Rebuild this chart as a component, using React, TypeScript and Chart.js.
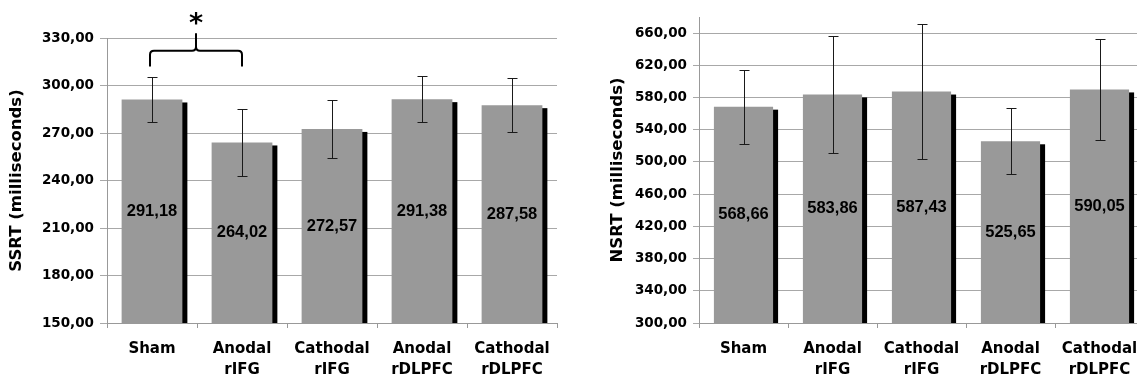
import React, { useEffect, useRef } from 'react';
import { Chart, registerables } from 'chart.js';

Chart.register(...registerables);

// ---------- data ----------
const categories: string[][] = [
  ['Sham'],
  ['Anodal', 'rIFG'],
  ['Cathodal', 'rIFG'],
  ['Anodal', 'rDLPFC'],
  ['Cathodal', 'rDLPFC'],
];

const ssrtValues = [291.18, 264.02, 272.57, 291.38, 287.58];
const ssrtErrors = [14.2, 21.0, 18.3, 14.5, 17.2];
const ssrtTicks = [150, 180, 210, 240, 270, 300, 330];
const ssrtTitle = 'SSRT (milliseconds)';

const nsrtValues = [568.66, 583.86, 587.43, 525.65, 590.05];
const nsrtErrors = [46, 73, 84, 41, 62.5];
const nsrtTicks = [300, 340, 380, 420, 460, 500, 540, 580, 620, 660];
const nsrtTitle = 'NSRT (milliseconds)';

// significance annotation (category indices) for the SSRT chart
const ssrtSignificance = [{ from: 0, to: 1, mark: '*' }];

// ---------- styling ----------
const BAR_COLOR = '#999999';
const SHADOW_COLOR = '#000000';
const GRID_COLOR = '#a8a8a8';
const AXIS_COLOR = '#999999';
const ERR_COLOR = '#1a1a1a';
const TICK_FONT = { family: '"DejaVu Sans", sans-serif', size: 13.5, weight: 'bold' as const };
const CAT_FONT = { family: '"DejaVu Sans", sans-serif', size: 15, weight: 'bold' as const, lineHeight: 1.37 };
const TITLE_FONT = { family: '"DejaVu Sans", sans-serif', size: 16.5, weight: 'bold' as const };
const LABEL_FONT = 'bold 16.5px "Liberation Sans", Arial, sans-serif';
const MARK_FONT = 'bold 27px "DejaVu Sans", sans-serif';

const fmt = (v: number) => v.toFixed(2).replace('.', ',');

interface Params {
  values: number[];
  errors: number[];
  ticks: number[];
  min: number;
  max: number;
  title: string;
  barPct: number;
  padTop: number;
  padRight: number;
  yAxisWidth: number;
  xAxisHeight: number;
  titlePad: number;
  tickLength: number;
  significance?: { from: number; to: number; mark: string }[];
  bracket?: { tip: number; level: number; end: number; markBaseline: number };
}

function decorPlugin(p: Params) {
  return {
    id: 'decor',
    beforeDatasetsDraw(chart: any) {
      const ctx = chart.ctx;
      const meta = chart.getDatasetMeta(0);
      const bottom = chart.chartArea.bottom;
      ctx.save();
      ctx.fillStyle = SHADOW_COLOR;
      meta.data.forEach((bar: any) => {
        const { x, y, base, width } = bar.getProps(['x', 'y', 'base', 'width'], true);
        const b = Math.min(base, bottom);
        ctx.fillRect(x - width / 2 + 5, y + 3, width, b - y - 3);
      });
      ctx.restore();
    },
    afterDatasetsDraw(chart: any) {
      const ctx = chart.ctx;
      const meta = chart.getDatasetMeta(0);
      const ys = chart.scales.y;
      const bottom = chart.chartArea.bottom;
      ctx.save();
      // error bars
      ctx.strokeStyle = ERR_COLOR;
      ctx.lineWidth = 1;
      meta.data.forEach((bar: any, i: number) => {
        const { x } = bar.getProps(['x'], true);
        const v = p.values[i];
        const e = p.errors[i];
        const yt = Math.round(ys.getPixelForValue(v + e)) + 0.5;
        const yb = Math.round(ys.getPixelForValue(v - e)) + 0.5;
        const xc = Math.round(x) + 0.5;
        ctx.beginPath();
        ctx.moveTo(xc, yt);
        ctx.lineTo(xc, yb);
        ctx.moveTo(xc - 5, yt);
        ctx.lineTo(xc + 5, yt);
        ctx.moveTo(xc - 5, yb);
        ctx.lineTo(xc + 5, yb);
        ctx.stroke();
      });
      // value labels
      ctx.fillStyle = '#000';
      ctx.font = LABEL_FONT;
      ctx.textAlign = 'center';
      ctx.textBaseline = 'middle';
      meta.data.forEach((bar: any, i: number) => {
        const { x, y, base } = bar.getProps(['x', 'y', 'base'], true);
        const b = Math.min(base, bottom);
        ctx.fillText(fmt(p.values[i]), x, (y + b) / 2);
      });
      ctx.restore();
    },
    afterDraw(chart: any) {
      if (!p.significance || !p.bracket) return;
      const ctx = chart.ctx;
      const xs = chart.scales.x;
      const ys = chart.scales.y;
      const b = p.bracket;
      ctx.save();
      ctx.strokeStyle = '#000';
      ctx.lineWidth = 2;
      p.significance.forEach((s) => {
        const x0 = xs.getPixelForValue(s.from) - 2;
        const x1 = xs.getPixelForValue(s.to);
        const xm = (x0 + x1) / 2;
        const yL = ys.getPixelForValue(b.level);
        const yE = ys.getPixelForValue(b.end);
        const yT = ys.getPixelForValue(b.tip);
        const r = 4;
        ctx.beginPath();
        ctx.moveTo(x0, yE);
        ctx.lineTo(x0, yL + r);
        ctx.quadraticCurveTo(x0, yL, x0 + r, yL);
        ctx.lineTo(xm - r, yL);
        ctx.quadraticCurveTo(xm, yL, xm, yL - r);
        ctx.lineTo(xm, yT);
        ctx.moveTo(xm, yL - r);
        ctx.quadraticCurveTo(xm, yL, xm + r, yL);
        ctx.lineTo(x1 - r, yL);
        ctx.quadraticCurveTo(x1, yL, x1, yL + r);
        ctx.lineTo(x1, yE);
        ctx.stroke();
        ctx.fillStyle = '#000';
        ctx.font = MARK_FONT;
        ctx.textAlign = 'center';
        ctx.textBaseline = 'alphabetic';
        ctx.fillText(s.mark, xm, ys.getPixelForValue(b.markBaseline));
      });
      ctx.restore();
    },
  };
}

function buildConfig(p: Params): any {
  return {
    type: 'bar',
    data: {
      labels: categories,
      datasets: [
        {
          data: p.values,
          backgroundColor: BAR_COLOR,
          borderWidth: 0,
          categoryPercentage: 1,
          barPercentage: p.barPct,
        },
      ],
    },
    options: {
      animation: false,
      responsive: false,
      maintainAspectRatio: false,
      layout: { padding: { top: p.padTop, right: p.padRight, left: 0, bottom: 0 } },
      plugins: {
        legend: { display: false },
        tooltip: { enabled: false },
        title: { display: false },
      },
      scales: {
        x: {
          grid: {
            offset: true,
            drawOnChartArea: false,
            drawTicks: true,
            tickLength: 5,
            color: AXIS_COLOR,
          },
          border: { display: true, color: AXIS_COLOR },
          ticks: {
            color: '#000',
            font: CAT_FONT,
            padding: 11,
            maxRotation: 0,
            autoSkip: false,
          },
          afterFit: (s: any) => {
            s.height = p.xAxisHeight;
          },
        },
        y: {
          min: p.min,
          max: p.max,
          afterBuildTicks: (a: any) => {
            a.ticks = p.ticks.map((v) => ({ value: v }));
          },
          ticks: {
            color: '#000',
            font: TICK_FONT,
            padding: 6,
            callback: (v: any) => fmt(Number(v)),
          },
          grid: { color: GRID_COLOR, tickLength: p.tickLength, lineWidth: 1 },
          border: { display: true, color: AXIS_COLOR },
          title: {
            display: true,
            text: p.title,
            color: '#000',
            font: TITLE_FONT,
            padding: { top: p.titlePad, bottom: 0 },
          },
          afterFit: (s: any) => {
            s.width = p.yAxisWidth;
          },
        },
      },
    },
    plugins: [decorPlugin(p)],
  };
}

const leftParams: Params = {
  values: ssrtValues,
  errors: ssrtErrors,
  ticks: ssrtTicks,
  min: 150,
  max: 330,
  title: ssrtTitle,
  barPct: 0.675,
  padTop: 38,
  padRight: 8,
  yAxisWidth: 107,
  xAxisHeight: 57,
  titlePad: 7,
  tickLength: 7,
  significance: ssrtSignificance,
  bracket: { tip: 333, level: 322, end: 312, markBaseline: 333.5 },
};

const rightParams: Params = {
  values: nsrtValues,
  errors: nsrtErrors,
  ticks: nsrtTicks,
  min: 300,
  max: 680,
  title: nsrtTitle,
  barPct: 0.665,
  padTop: 17,
  padRight: 16,
  yAxisWidth: 139,
  xAxisHeight: 57,
  titlePad: 48,
  tickLength: 6,
};

function BarChart({ params, left, width }: { params: Params; left: number; width: number }) {
  const ref = useRef<HTMLCanvasElement | null>(null);
  useEffect(() => {
    if (!ref.current) return;
    const chart = new Chart(ref.current, buildConfig(params));
    return () => chart.destroy();
  }, [params]);
  return (
    <canvas
      ref={ref}
      width={width}
      height={380}
      style={{ position: 'absolute', left, top: 0, width, height: 380 }}
    />
  );
}

export default function App() {
  return (
    <div
      style={{
        position: 'absolute',
        left: 0,
        top: 0,
        width: 1137,
        height: 380,
        overflow: 'hidden',
        background: '#fff',
      }}
    >
      <BarChart params={leftParams} left={0} width={565} />
      <BarChart params={rightParams} left={560} width={600} />
    </div>
  );
}
